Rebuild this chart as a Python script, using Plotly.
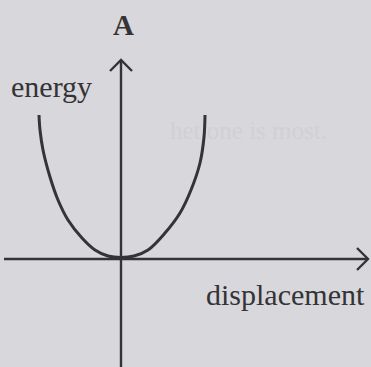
import plotly.graph_objects as go

# Potential-energy curve, sampled along displacement (left branch then right branch)
displacement = [-82, -81, -78, -71, -63, -53, -39, -26, -13, 0, 13, 27, 44, 59, 70, 79, 83, 84]
energy = [144, 129, 109, 82, 59, 39, 21, 9, 3, 1.5, 3, 9, 26, 46, 69, 96, 122, 144]

panel_label = "A"
y_label = "energy"
x_label = "displacement"

ink = "#343336"
paper = "#d8d7dc"

fig = go.Figure()

fig.add_trace(go.Scatter(
    x=displacement, y=energy, mode="lines",
    line=dict(color=ink, width=3, shape="spline", smoothing=1.0),
    hoverinfo="skip", showlegend=False,
))

# axes drawn through the origin, with open chevron arrowheads
axis = dict(color=ink, width=2.4)
fig.add_shape(type="line", x0=0, y0=-110, x1=0, y1=199, line=axis)
fig.add_shape(type="path", path="M -11 188 L 0 199 L 11 188", line=axis)
fig.add_shape(type="line", x0=-117, y0=0, x1=247, y1=0, line=axis)
fig.add_shape(type="path", path="M 236 11 L 247 0 L 236 -11", line=axis)

serif = "Liberation Serif, Times New Roman, serif"
fig.add_annotation(x=2, y=234, text=f"<b>{panel_label}</b>", showarrow=False,
                   font=dict(family=serif, size=29, color=ink))
fig.add_annotation(x=-70, y=173, text=y_label, showarrow=False,
                   font=dict(family=serif, size=30, color=ink))
fig.add_annotation(x=164, y=-35, text=x_label, showarrow=False,
                   font=dict(family=serif, size=30, color=ink))
# faint show-through of print from the facing page
fig.add_annotation(x=47, y=129, xanchor="left", text="het one is most.", showarrow=False,
                   font=dict(family=serif, size=25, color="#d1d0d5"))

fig.update_xaxes(range=[-121, 250], visible=False, fixedrange=True)
fig.update_yaxes(range=[-108, 259], visible=False, fixedrange=True)
fig.update_layout(
    width=371, height=367, margin=dict(l=0, r=0, t=0, b=0),
    paper_bgcolor=paper, plot_bgcolor=paper,
)

fig.write_html("out.html")
